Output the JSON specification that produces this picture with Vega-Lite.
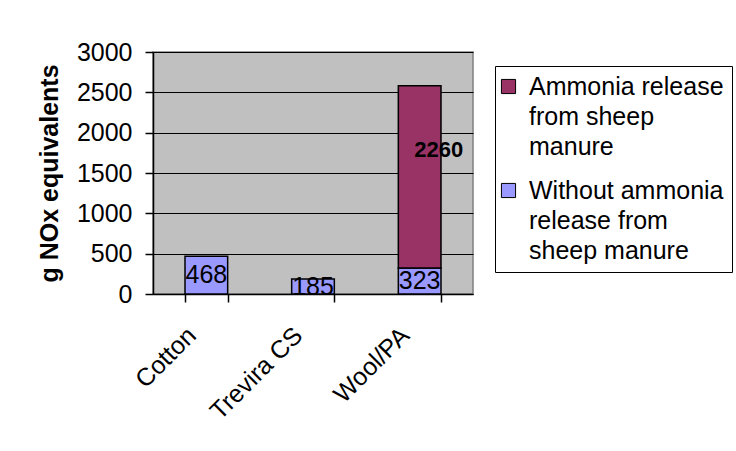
{
  "$schema": "https://vega.github.io/schema/vega-lite/v6.json",
  "width": 320,
  "height": 242,
  "autosize": {"type": "none"},
  "padding": {"left": 153, "top": 52, "right": 263, "bottom": 157},
  "background": "white",
  "config": {
    "font": "Liberation Sans",
    "view": {"fill": "#C0C0C0", "stroke": "#808080", "strokeWidth": 1.5},
    "style": {"guide-label": {"lineHeight": 30}}
  },
  "data": {
    "values": [
      {"material": "Cotton", "series": "Without ammonia release from sheep manure", "value": 468},
      {"material": "Trevira CS", "series": "Without ammonia release from sheep manure", "value": 185},
      {"material": "Wool/PA", "series": "Without ammonia release from sheep manure", "value": 323},
      {"material": "Wool/PA", "series": "Ammonia release from sheep manure", "value": 2260}
    ]
  },
  "transform": [
    {"stack": "value", "groupby": ["material"], "sort": [{"field": "series", "order": "descending"}], "as": ["v0", "v1"]},
    {"calculate": "(datum.v0 + datum.v1) / 2", "as": "mid"}
  ],
  "encoding": {
    "x": {
      "field": "material",
      "type": "nominal",
      "sort": null,
      "scale": {"paddingInner": 0.6, "paddingOuter": 0.3},
      "axis": {
        "title": null,
        "labelAngle": -45,
        "labelAlign": "right",
        "labelBaseline": "middle",
        "labelFontSize": 25,
        "labelColor": "black",
        "tickBand": "extent",
        "tickSize": 8,
        "tickColor": "black",
        "tickWidth": 1.5,
        "domainColor": "black",
        "domainWidth": 1.5,
        "labelPadding": 29,
        "labelOffset": -15,
        "grid": false
      }
    }
  },
  "layer": [
    {
      "mark": {"type": "bar", "stroke": "black", "strokeWidth": 1.5},
      "encoding": {
        "y": {
          "field": "v0",
          "type": "quantitative",
          "scale": {"domain": [0, 3000]},
          "axis": {
            "title": "g NOx equivalents",
            "values": [0, 500, 1000, 1500, 2000, 2500, 3000],
            "format": "d",
            "grid": true,
            "gridColor": "black",
            "gridOpacity": 1,
            "gridWidth": 1,
            "domainColor": "black",
            "domainWidth": 1.5,
            "tickColor": "black",
            "tickWidth": 1.5,
            "tickSize": 8,
            "labelFontSize": 25,
            "labelColor": "black",
            "labelPadding": 13,
            "titleFontSize": 25,
            "titleFontWeight": "bold",
            "titleColor": "black",
            "titlePadding": 14
          }
        },
        "y2": {"field": "v1"},
        "color": {
          "field": "series",
          "type": "nominal",
          "scale": {
            "domain": ["Ammonia release from sheep manure", "Without ammonia release from sheep manure"],
            "range": ["#993366", "#9999FF"]
          },
          "legend": {
            "title": null,
            "orient": "none",
            "legendX": 342,
            "legendY": 14,
            "strokeColor": "black",
            "fillColor": "white",
            "padding": 8,
            "symbolType": "square",
            "symbolSize": 200,
            "symbolOffset": -7,
            "symbolStrokeColor": "black",
            "symbolStrokeWidth": 1,
            "symbolOpacity": 1,
            "labelFontSize": 25,
            "labelColor": "black",
            "labelLimit": 300,
            "rowPadding": 18,
            "labelOffset": 8,
            "labelBaseline": "top",
            "labelExpr": "datum.label == 'Ammonia release from sheep manure' ? ['Ammonia release', 'from sheep', 'manure'] : ['Without ammonia', 'release from', 'sheep manure']",
            "encode": {"labels": {"update": {"dy": {"value": -12}}}}
          }
        }
      }
    },
    {
      "transform": [{"filter": "datum.series == 'Without ammonia release from sheep manure'"}],
      "mark": {"type": "text", "fontSize": 25, "baseline": "middle", "color": "black"},
      "encoding": {
        "y": {"field": "mid", "type": "quantitative", "title": "g NOx equivalents"},
        "text": {"field": "value", "type": "quantitative"}
      }
    },
    {
      "transform": [{"filter": "datum.series == 'Ammonia release from sheep manure'"}],
      "mark": {"type": "text", "fontSize": 22, "fontWeight": "bold", "baseline": "middle", "color": "black", "dx": 19, "dy": -27},
      "encoding": {
        "y": {"field": "mid", "type": "quantitative", "title": "g NOx equivalents"},
        "text": {"field": "value", "type": "quantitative"}
      }
    }
  ]
}
